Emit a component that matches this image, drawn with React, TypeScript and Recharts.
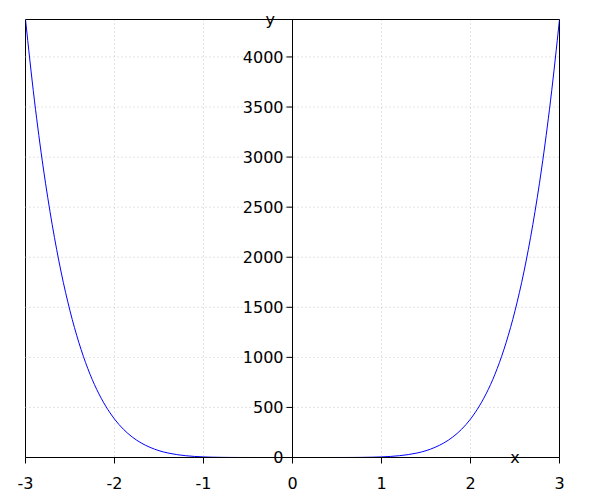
import React from "react"
import {
  LineChart,
  Line,
  XAxis,
  YAxis,
  CartesianGrid,
  ReferenceArea,
  ReferenceDot,
  ReferenceLine,
} from "recharts"

// values
const xValues = [
  -3.0, -2.9, -2.8, -2.7, -2.6, -2.5, -2.4, -2.3, -2.2, -2.1, -2.0, -1.9, -1.8, -1.7, -1.6, -1.5,
  -1.4, -1.3, -1.2, -1.1, -1.0, -0.9, -0.8, -0.7, -0.6, -0.5, -0.4, -0.3, -0.2, -0.1, 0.0, 0.1,
  0.2, 0.3, 0.4, 0.5, 0.6, 0.7, 0.8, 0.9, 1.0, 1.1, 1.2, 1.3, 1.4, 1.5, 1.6, 1.7, 1.8, 1.9, 2.0,
  2.1, 2.2, 2.3, 2.4, 2.5, 2.6, 2.7, 2.8, 2.9, 3.0,
]
const yValues = [
  4374, 3569, 2891, 2325, 1853, 1465, 1147, 888, 680, 515, 384, 282, 204, 145, 101, 68, 45, 29,
  17.9, 10.6, 6, 3.2, 1.6, 0.7, 0.3, 0.1, 0, 0, 0, 0, 0, 0, 0, 0, 0, 0.1, 0.3, 0.7, 1.6, 3.2, 6,
  10.6, 17.9, 29, 45, 68, 101, 145, 204, 282, 384, 515, 680, 888, 1147, 1465, 1853, 2325, 2891,
  3569, 4374,
]
const xTicks = [-3, -2, -1, 0, 1, 2, 3]
const yTicks = [0, 500, 1000, 1500, 2000, 2500, 3000, 3500, 4000]
const Y_MAX = 4374

const data = xValues.map((x, i) => ({ x, y: yValues[i] }))

const FONT = "DejaVu Sans"
const GRID = "#c8c8c8"
const tickStyle = { fill: "#000", fontSize: 16, fontFamily: FONT }
const labelStyle = { fill: "#000", fontSize: 16, fontFamily: FONT }

export default function App() {
  return (
    <div style={{ position: "absolute", left: 0, top: 0, width: 600, height: 500 }}>
      <div style={{ position: "absolute", left: 0, top: 0 }}>
        <LineChart
          width={600}
          height={500}
          data={data}
          margin={{ top: 19.5, right: 40.5, left: 25.5, bottom: 12.5 }}
        >
          <CartesianGrid
            stroke={GRID}
            strokeDasharray="1 3"
            horizontal={false}
            verticalValues={xTicks}
          />
          {yTicks.slice(1).map((t) => (
            <ReferenceLine key={t} y={t} stroke={GRID} strokeDasharray="1 3" />
          ))}
          <XAxis
            dataKey="x"
            type="number"
            domain={[-3, 3]}
            ticks={xTicks}
            allowDataOverflow
            stroke="#000"
            tickSize={6}
            tickMargin={14}
            tick={tickStyle}
          />
          <YAxis
            type="number"
            domain={[0, Y_MAX]}
            ticks={yTicks}
            width={0}
            tick={false}
            axisLine={false}
            tickLine={false}
            allowDataOverflow
          />
          <ReferenceArea
            x1={-3}
            x2={3}
            y1={0}
            y2={Y_MAX}
            fill="none"
            stroke="#000"
            strokeWidth={1}
          />
          <Line
            dataKey="y"
            type="monotone"
            stroke="#0000ff"
            strokeWidth={1}
            dot={false}
            isAnimationActive={false}
          />
          <ReferenceDot
            x={2.5}
            y={0}
            r={0}
            label={{ value: "x", position: "center", ...labelStyle }}
          />
          <ReferenceDot
            x={-0.25}
            y={Y_MAX}
            r={0}
            label={{ value: "y", position: "center", ...labelStyle }}
          />
        </LineChart>
      </div>
      {/* y axis sits at x = 0, drawn by a second chart whose plot starts there */}
      <div style={{ position: "absolute", left: 0, top: 0, pointerEvents: "none" }}>
        <LineChart
          width={600}
          height={500}
          data={data}
          margin={{ top: 19.5, right: 40.5, left: 232.5, bottom: 42.5 }}
        >
          <XAxis dataKey="x" type="number" domain={[0, 3]} hide allowDataOverflow />
          <YAxis
            type="number"
            domain={[0, Y_MAX]}
            ticks={yTicks}
            width={60}
            stroke="#000"
            tickSize={6}
            tickMargin={3}
            tick={tickStyle}
            allowDataOverflow
          />
        </LineChart>
      </div>
    </div>
  )
}
